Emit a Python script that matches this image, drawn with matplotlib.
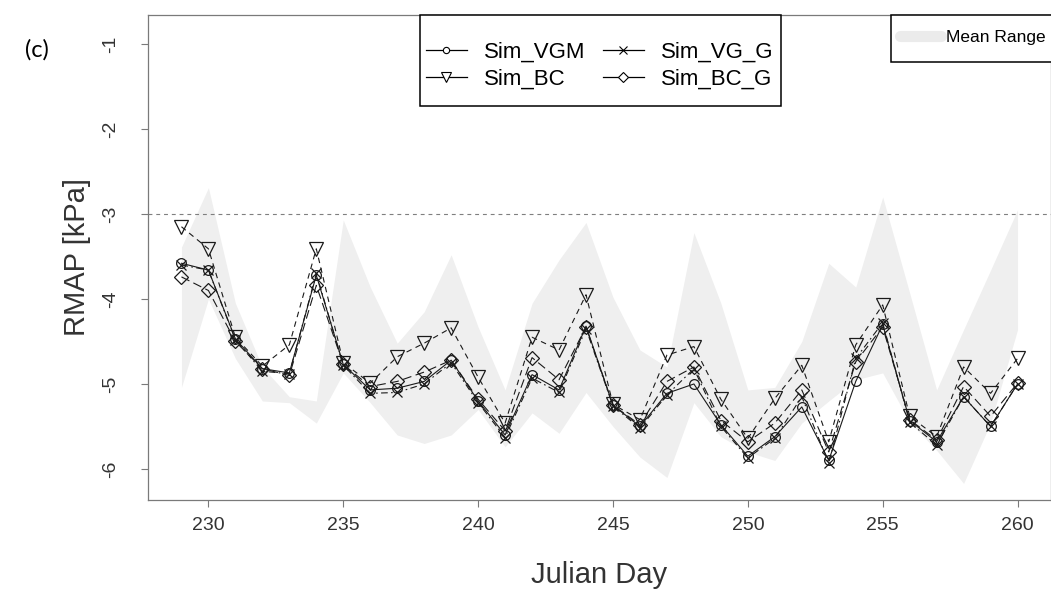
import matplotlib
matplotlib.use("Agg")
import matplotlib.pyplot as plt
from matplotlib.lines import Line2D
from matplotlib.patches import Rectangle

# ---- data -------------------------------------------------------------
days = list(range(229, 261))

sim_vgm = [-3.58, -3.66, -4.47, -4.82, -4.87, -3.72, -4.77, -5.07, -5.05, -4.97,
           -4.72, -5.20, -5.60, -4.89, -5.07, -4.32, -5.25, -5.50, -5.11, -5.00,
           -5.48, -5.85, -5.62, -5.27, -5.90, -4.97, -4.30, -5.43, -5.68, -5.15,
           -5.50, -5.00]
sim_bc = [-3.15, -3.41, -4.45, -4.79, -4.54, -3.41, -4.75, -4.99, -4.68, -4.52,
          -4.34, -4.92, -5.46, -4.45, -4.60, -3.95, -5.24, -5.42, -4.66, -4.56,
          -5.18, -5.64, -5.17, -4.78, -5.68, -4.54, -4.07, -5.38, -5.62, -4.80,
          -5.11, -4.70]
sim_vg_g = [-3.60, -3.66, -4.48, -4.85, -4.88, -3.70, -4.78, -5.11, -5.10, -5.00,
            -4.75, -5.22, -5.63, -4.93, -5.10, -4.35, -5.26, -5.52, -5.13, -4.82,
            -5.50, -5.87, -5.64, -5.15, -5.93, -4.70, -4.28, -5.45, -5.72, -5.15,
            -5.50, -5.00]
sim_bc_g = [-3.74, -3.90, -4.50, -4.82, -4.90, -3.84, -4.77, -5.03, -4.97, -4.86,
            -4.72, -5.18, -5.55, -4.69, -4.95, -4.33, -5.25, -5.48, -4.97, -4.80,
            -5.43, -5.68, -5.46, -5.07, -5.80, -4.74, -4.33, -5.42, -5.66, -5.03,
            -5.38, -4.99]

range_upper = [-3.39, -2.69, -4.05, -4.80, -5.15, -5.20, -3.07, -3.86, -4.52, -4.15,
               -3.48, -4.33, -5.07, -4.05, -3.54, -3.10, -3.98, -4.60, -4.80, -3.22,
               -4.05, -5.07, -5.04, -4.50, -3.58, -3.86, -2.80, -3.93, -5.07, -4.36,
               -3.66, -2.95]
range_lower = [-5.04, -4.00, -4.70, -5.20, -5.22, -5.46, -4.87, -5.22, -5.60, -5.70,
               -5.60, -5.30, -5.74, -5.34, -5.58, -5.10, -5.50, -5.86, -6.10, -5.22,
               -5.62, -5.80, -5.90, -5.46, -5.20, -4.95, -4.87, -5.45, -5.78, -6.17,
               -5.46, -4.36]

x_ticks = [230, 235, 240, 245, 250, 255, 260]
y_ticks = [-6, -5, -4, -3, -2, -1]
ref_level = -3

series_names = ["Sim_VGM", "Sim_BC", "Sim_VG_G", "Sim_BC_G"]

# ---- figure -----------------------------------------------------------
plt.rcParams['font.family'] = ['Liberation Sans', 'DejaVu Sans']

W, H = 1051, 590
fig = plt.figure(figsize=(W / 100, H / 100), dpi=100)
ax = fig.add_axes([148 / W, 90 / H, 903 / W, 485 / H])

axis_grey = '#7a7a7a'
text_grey = '#333333'

# ensemble range band
ax.fill_between(days, range_lower, range_upper, color='#efefef', lw=0, zorder=1)

# reference level
ax.axhline(ref_level, color='#7f7f7f', lw=0.8, dashes=(3.5, 3.5), zorder=2)

styles = {
    "Sim_VGM":  dict(marker='o', ms=7, ls='-', lw=0.8),
    "Sim_BC":   dict(marker='v', ms=10, ls=(0, (5, 4)), lw=0.8),
    "Sim_VG_G": dict(marker='x', ms=7, ls=(0, (6, 3, 1.5, 3)), lw=0.8),
    "Sim_BC_G": dict(marker='D', ms=7, ls=(0, (8, 4)), lw=0.8),
}
values = {"Sim_VGM": sim_vgm, "Sim_BC": sim_bc,
          "Sim_VG_G": sim_vg_g, "Sim_BC_G": sim_bc_g}

for name in series_names:
    st = styles[name]
    ax.plot(days, values[name], color='#1a1a1a', marker=st['marker'], ms=st['ms'],
            ls=st['ls'], lw=st['lw'], mfc='none', mec='#1a1a1a', mew=0.9, zorder=3)

ax.set_xlim(227.76, 261.24)
ax.set_ylim(-6.365, -0.659)
ax.set_xticks(x_ticks)
ax.set_yticks(y_ticks)
ax.set_yticklabels([str(v) for v in y_ticks], rotation=90, va='center')

for sp in ax.spines.values():
    sp.set_color(axis_grey)
    sp.set_linewidth(0.9)

ax.tick_params(axis='both', direction='out', length=5, width=0.8,
               color=axis_grey, labelcolor=text_grey, labelsize=14)
ax.tick_params(axis='x', pad=7)
ax.tick_params(axis='y', pad=16)

ax.set_xlabel('Julian Day', fontsize=21, color=text_grey, labelpad=20)
ax.set_ylabel('RMAP [kPa]', fontsize=21, color=text_grey, labelpad=8)

fig.text(25 / W, 1 - 50 / H, '(c)', fontsize=17, family=['Lato', 'DejaVu Sans'],
         va='center', ha='left', color='black')

# ---- legends ----------------------------------------------------------
handles = []
for name in series_names:
    st = styles[name]
    msz = {'o': 4.5, 'v': 6.5, 'x': 6, 'D': 5}[st['marker']]
    handles.append(Line2D([], [], color='black', lw=0.9, ls='-',
                          marker=st['marker'], ms=msz, mfc='white',
                          mec='black', mew=0.8))

leg1 = ax.legend(handles, series_names, loc='upper center', ncol=2,
                 bbox_to_anchor=(0.5, 1 - 27 / 485), frameon=False,
                 borderaxespad=0, borderpad=0, fontsize=16,
                 handlelength=1.85, handletextpad=0.75, columnspacing=0.8,
                 labelspacing=0.25)
ax.add_artist(leg1)

band_handle = Line2D([], [], color='#ebebeb', lw=8, solid_capstyle='round')
leg2 = ax.legend([band_handle], ['Mean Range'], loc='upper right',
                 bbox_to_anchor=((1046 - 148) / 903, 1 - 15 / 485),
                 frameon=False, borderaxespad=0, borderpad=0, fontsize=12.5,
                 handlelength=2.4, handletextpad=0.3)
leg1.set_zorder(6)
leg2.set_zorder(6)

fig.canvas.draw()
renderer = fig.canvas.get_renderer()
ax_bb = ax.get_window_extent(renderer)
inv = ax.transAxes.inverted()


def add_box(x0, y0, x1, y1):
    (ax0, ay0), (ax1, ay1) = inv.transform([(x0, y0), (x1, y1)])
    ax.add_patch(Rectangle((ax0, ay0), ax1 - ax0, ay1 - ay0,
                           transform=ax.transAxes, fill=True, fc='white',
                           ec='black', lw=1.1, zorder=5, clip_on=False))


bb1 = leg1.get_window_extent(renderer)
add_box(bb1.x0 - 6, bb1.y0 - 16, bb1.x1 + 8, ax_bb.y1)

bb2 = leg2.get_window_extent(renderer)
add_box(bb2.x0 - 9, ax_bb.y1 - 47, ax_bb.x1 + 5, ax_bb.y1)

fig.savefig('out.png', dpi=100)
